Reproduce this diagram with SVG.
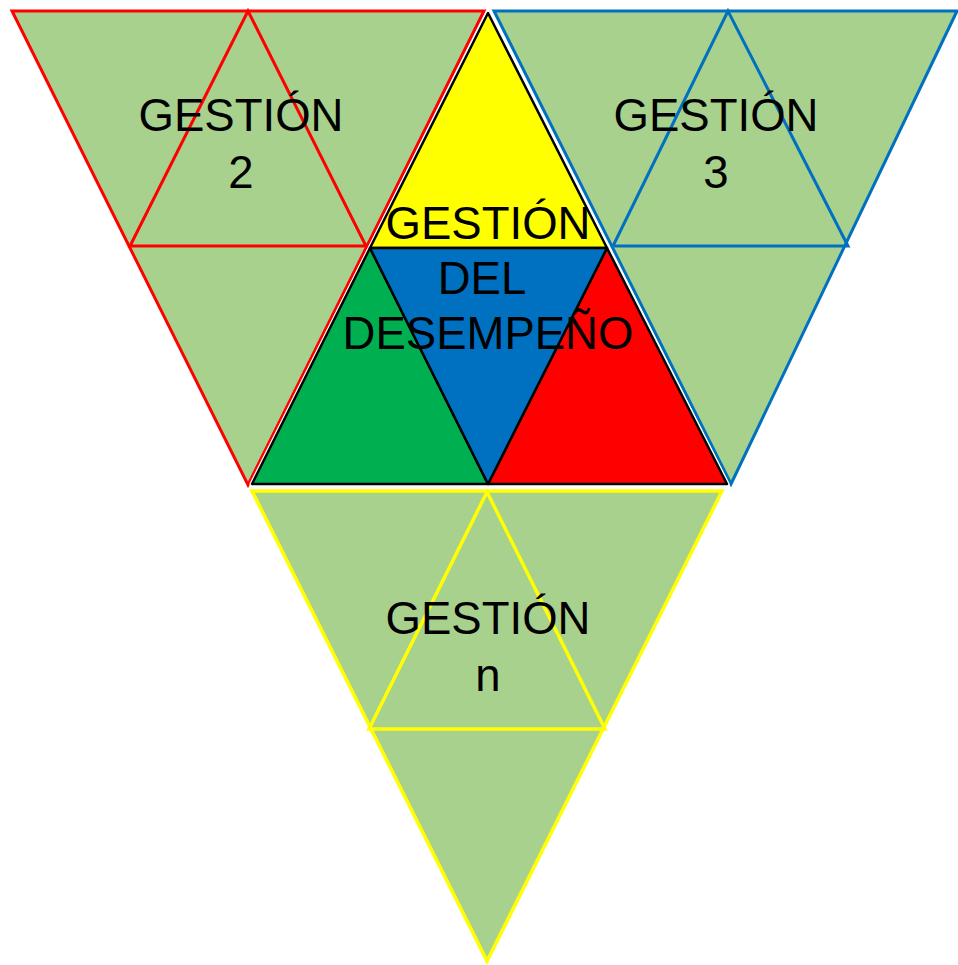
<svg xmlns="http://www.w3.org/2000/svg" width="958" height="965" viewBox="0 0 958 965">
<style>
.bg{fill:#A9D18E}
.r{stroke:#FF0000;stroke-width:3;fill:none;stroke-linejoin:miter}
.b{stroke:#0070C0;stroke-width:3;fill:none}
.y{stroke:#FFFF00;stroke-width:3.5;fill:none}
.halo{fill:none;stroke:#FFFFFF;stroke-width:5;stroke-linejoin:round}
.k{stroke:#000000;stroke-width:2.5;stroke-linejoin:round}
text{font-family:"Liberation Sans",Arial,sans-serif;font-size:45.5px;fill:#000;text-anchor:middle}
</style>
<rect width="958" height="965" fill="#FFFFFF"/>
<g id="gestion2">
<polygon class="bg" points="12,11 484,11 248,485"/>
<polygon class="r" points="12,11 484,11 248,485"/>
<polygon class="r" points="248,11 130,246 366,246"/>
<text x="241" y="131">GESTIÓN</text>
<text x="241" y="188">2</text>
</g>
<g id="gestion3">
<polygon class="bg" points="494,11 957,11 731,484"/>
<polygon class="b" points="494,11 957,11 731,484"/>
<polygon class="b" points="728,11 613,246 848,246"/>
<text x="716" y="131">GESTIÓN</text>
<text x="716" y="188">3</text>
</g>
<g id="gestionn">
<polygon class="bg" points="252,491 722,491 487,961"/>
<polygon class="y" points="252,491 722,491 487,961"/>
<polygon class="y" points="487,492 369,729 605,729"/>
<text x="488" y="634">GESTIÓN</text>
<text x="488" y="691">n</text>
</g>
<g id="desempeno">
<polygon class="halo" points="488,13 252,484 727,484"/>
<polygon class="k" fill="#FFFF00" points="488,13 370,248 607,248"/>
<polygon class="k" fill="#00B050" points="370,248 252,484 488,484"/>
<polygon class="k" fill="#FF0000" points="607,248 488,484 727,484"/>
<polygon class="k" fill="#0070C0" points="370,248 607,248 488,484"/>
<text x="488" y="239">GESTIÓN</text>
<text x="482" y="294">DEL</text>
<text x="488" y="349">DESEMPEÑO</text>
</g>
<g id="connectors"></g>
</svg>
